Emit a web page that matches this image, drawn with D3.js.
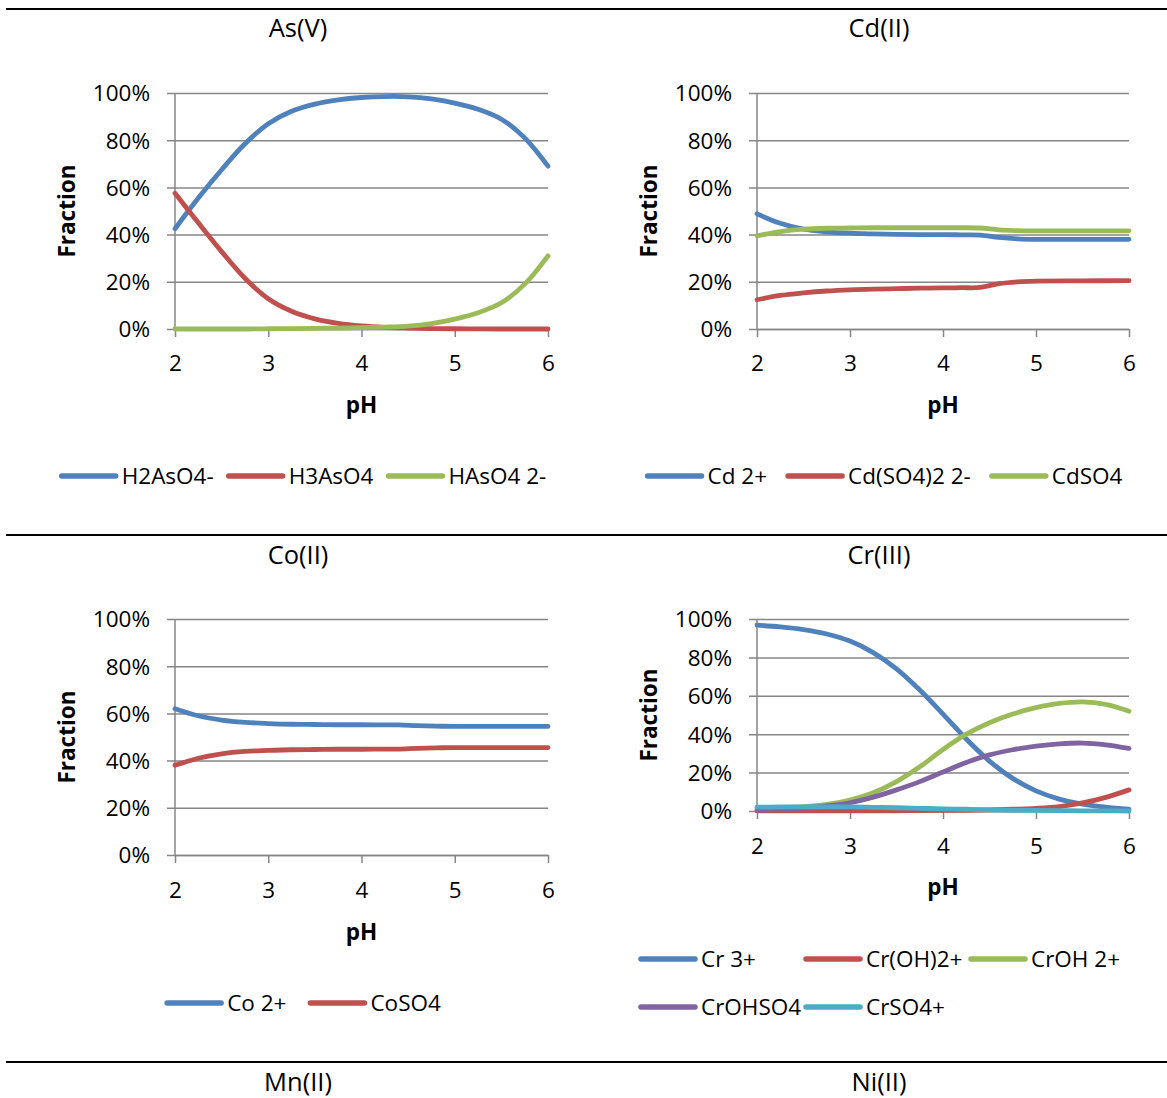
<!DOCTYPE html>
<html>
<head>
<meta charset="utf-8">
<script src="https://cdn.jsdelivr.net/npm/d3@7"></script>
<style>
  html, body { margin: 0; padding: 0; background: #fff; }
  svg { display: block; font-family: "Open Sans", "Noto Sans", sans-serif; }
</style>
</head>
<body>
<svg id="chart" width="1167" height="1098"></svg>
<script>
// pH grids
const pHFine = [2, 2.25, 2.5, 2.75, 3, 3.25, 3.5, 3.75, 4, 4.25, 4.5, 4.75, 5, 5.25, 5.5, 5.75, 6];
const pHSulfate = [2, 2.25, 2.5, 2.75, 3, 3.25, 3.5, 3.75, 4, 4.2, 4.4, 4.6, 4.8, 5, 5.5, 6];

const xTicks = [2, 3, 4, 5, 6];
const yTicks = [0, 20, 40, 60, 80, 100];

// As(V) species, % of total
const asNames = ["H2AsO4-", "H3AsO4", "HAsO4 2-"];
const asH2AsO4 = [42.5, 55.5, 67.5, 78.5, 87, 92.3, 95.3, 97.1, 98.1, 98.5, 98.4, 97.5, 95.7, 93.1, 88.9, 81, 69];
const asH3AsO4 = [57.5, 45, 32.8, 21.5, 12.8, 7.5, 4.3, 2.4, 1.3, 0.7, 0.4, 0.2, 0.1, 0.05, 0, 0, 0];
const asHAsO4 = [0, 0, 0, 0, 0.1, 0.2, 0.3, 0.4, 0.6, 0.8, 1.2, 2.3, 4.2, 6.9, 11.1, 19, 31];

// Cd(II) species
const cdNames = ["Cd 2+", "Cd(SO4)2 2-", "CdSO4"];
const cdFree = [48.8, 44.8, 42.3, 41.2, 40.6, 40.3, 40.1, 40.0, 40.0, 39.9, 39.8, 38.8, 38.2, 38.0, 38.0, 38.0];
const cdDisulfate = [12.4, 14.2, 15.3, 16.1, 16.6, 16.9, 17.1, 17.3, 17.4, 17.5, 17.6, 19.2, 20.0, 20.3, 20.4, 20.5];
const cdSulfate = [39.5, 41.3, 42.3, 42.7, 42.8, 42.9, 42.9, 42.9, 42.9, 42.9, 42.8, 42.0, 41.7, 41.6, 41.6, 41.6];

// Co(II) species
const coNames = ["Co 2+", "CoSO4"];
const coFree = [62.0, 59.0, 57.2, 56.2, 55.7, 55.4, 55.3, 55.2, 55.2, 55.1, 55.1, 54.8, 54.6, 54.5, 54.5, 54.5];
const coSulfate = [38.0, 41.0, 42.9, 43.9, 44.3, 44.6, 44.7, 44.8, 44.8, 44.9, 44.9, 45.2, 45.4, 45.5, 45.5, 45.5];

// Cr(III) species
const crNames = ["Cr 3+", "Cr(OH)2+", "CrOH 2+", "CrOHSO4", "CrSO4+"];
const crFree = [96.8, 95.9, 94.5, 92.2, 88.5, 82.5, 74, 63, 50.5, 37.5, 26, 17, 10.5, 6.2, 3.6, 2, 1];
const crDihydroxo = [0.1, 0.1, 0.1, 0.1, 0.1, 0.1, 0.1, 0.2, 0.3, 0.4, 0.6, 0.9, 1.4, 2.3, 4.2, 7.1, 11];
const crHydroxo = [1.5, 1.8, 2.3, 3.5, 5.7, 9.5, 15.3, 23, 32, 40, 46, 50.5, 53.8, 56.0, 56.8, 55.5, 52];
const crHydroxoSulfate = [0.3, 0.8, 1.5, 2.6, 4.3, 7.2, 11, 15.3, 20.3, 25.3, 29.2, 31.9, 33.8, 35.0, 35.4, 34.5, 32.6];
const crSulfate = [2, 2.1, 2.2, 2.2, 2.1, 1.9, 1.7, 1.4, 1.1, 0.9, 0.6, 0.4, 0.3, 0.2, 0.1, 0.1, 0];

const lowerTitles = ["Mn(II)", "Ni(II)"];

// Office palette
const palette = ["#4F81BD", "#C0504D", "#9BBB59", "#8064A2", "#4BACC6"];
const gridColor = "#868686";

const panels = [
  { title: "As(V)", x: pHFine, names: asNames, series: [asH2AsO4, asH3AsO4, asHAsO4],
    left: 175, right: 548, top: 93, bottom: 329, titleX: 298, titleY: 28,
    tickY: 363, xTitleY: 405, yTitleX: 67, legend: { type: "row", y: 476, cx: 304, gap: 15 } },
  { title: "Cd(II)", x: pHSulfate, names: cdNames, series: [cdFree, cdDisulfate, cdSulfate],
    left: 757, right: 1129, top: 93, bottom: 329, titleX: 879, titleY: 28,
    tickY: 363, xTitleY: 405, yTitleX: 649, legend: { type: "row", y: 476, cx: 885, gap: 21 } },
  { title: "Co(II)", x: pHSulfate, names: coNames, series: [coFree, coSulfate],
    left: 175, right: 548, top: 619, bottom: 855, titleX: 298, titleY: 555,
    tickY: 890, xTitleY: 932, yTitleX: 67, legend: { type: "row", y: 1003, cx: 304, gap: 24 } },
  { title: "Cr(III)", x: pHFine, names: crNames, series: [crFree, crDihydroxo, crHydroxo, crHydroxoSulfate, crSulfate],
    left: 757, right: 1129, top: 619, bottom: 811, titleX: 879, titleY: 555,
    tickY: 846, xTitleY: 887, yTitleX: 649, legend: { type: "grid", rows: [959, 1007], x0: 641, pitch: 165, cols: 3 } }
];

const svg = d3.select("#chart");
const FONT = 22.5;
const LINE_W = 4.8;
const SWATCH = 54;

// horizontal separators between chart rows
[9, 535, 1062].forEach(y => {
  svg.append("line").attr("x1", 6).attr("x2", 1167).attr("y1", y).attr("y2", y)
    .attr("stroke", "#000").attr("stroke-width", 2);
});

// titles of the next row
svg.append("text").attr("x", 298).attr("y", 1082).attr("dy", "0.35em").attr("text-anchor", "middle")
  .attr("font-size", 25.5).text(lowerTitles[0]);
svg.append("text").attr("x", 879).attr("y", 1082).attr("dy", "0.35em").attr("text-anchor", "middle")
  .attr("font-size", 25.5).text(lowerTitles[1]);

panels.forEach(p => {
  const g = svg.append("g");
  const x = d3.scaleLinear().domain([2, 6]).range([p.left, p.right]);
  const y = d3.scaleLinear().domain([0, 100]).range([p.bottom, p.top]);

  // title
  g.append("text").attr("x", p.titleX).attr("y", p.titleY).attr("dy", "0.35em")
    .attr("text-anchor", "middle").attr("font-size", 25.5).text(p.title);

  // horizontal gridlines, extending left as tick marks
  const yAxis = d3.axisLeft(y).tickValues(yTicks).tickSize(-(p.right - p.left)).tickSizeOuter(0)
    .tickFormat(d => d + "%").tickPadding(0);
  const ya = g.append("g").attr("transform", `translate(${p.left},0)`).call(yAxis);
  ya.select(".domain").remove();
  ya.selectAll(".tick line").attr("x1", -8).attr("stroke", gridColor).attr("stroke-width", 1.5);
  ya.selectAll(".tick text").attr("x", -25).attr("dy", "0.35em").attr("font-size", FONT)
    .attr("font-family", "Open Sans").attr("fill", "#000");

  // vertical axis line
  g.append("line").attr("x1", p.left).attr("x2", p.left).attr("y1", p.top).attr("y2", p.bottom)
    .attr("stroke", gridColor).attr("stroke-width", 1.5);

  // bottom axis with downward ticks
  const xAxis = d3.axisBottom(x).tickValues(xTicks).tickSize(8).tickSizeOuter(0).tickFormat(d3.format("d"));
  const xa = g.append("g").attr("transform", `translate(0,${p.bottom})`).call(xAxis);
  xa.select(".domain").attr("stroke", gridColor).attr("stroke-width", 1.5);
  xa.selectAll(".tick line").attr("stroke", gridColor).attr("stroke-width", 1.5);
  xa.selectAll(".tick text").attr("y", p.tickY - p.bottom).attr("dy", "0.35em").attr("font-size", FONT)
    .attr("font-family", "Open Sans").attr("fill", "#000");

  // axis titles
  g.append("text").attr("x", (p.left + p.right) / 2).attr("y", p.xTitleY).attr("dy", "0.35em")
    .attr("text-anchor", "middle").attr("font-size", FONT).attr("font-weight", "bold").text("pH");
  g.append("text").attr("transform", `translate(${p.yTitleX},${(p.top + p.bottom) / 2}) rotate(-90)`)
    .attr("dy", "0.35em").attr("text-anchor", "middle").attr("font-size", FONT)
    .attr("font-weight", "bold").text("Fraction");

  // species curves (smoothed)
  const line = d3.line().x(d => x(d[0])).y(d => y(d[1])).curve(d3.curveCatmullRom.alpha(0.5));
  p.series.forEach((vals, i) => {
    const pts = p.x.map((v, k) => [v, vals[k]]);
    g.append("path").datum(pts).attr("d", line).attr("fill", "none")
      .attr("stroke", palette[i]).attr("stroke-width", LINE_W).attr("stroke-linecap", "round")
      .attr("stroke-linejoin", "round");
  });

  // legend
  const L = p.legend;
  const entries = p.names.map((name, i) => {
    const eg = g.append("g");
    eg.append("line").attr("x1", 0).attr("x2", SWATCH).attr("y1", 0).attr("y2", 0)
      .attr("stroke", palette[i]).attr("stroke-width", LINE_W + 0.7).attr("stroke-linecap", "round");
    const t = eg.append("text").attr("x", SWATCH + 6).attr("y", 0).attr("dy", "0.35em")
      .attr("font-size", FONT).text(name);
    const w = SWATCH + 6 + t.node().getComputedTextLength();
    return { eg, w };
  });
  if (L.type === "row") {
    const total = d3.sum(entries, e => e.w) + L.gap * (entries.length - 1);
    let cx = L.cx - total / 2;
    entries.forEach(e => {
      e.eg.attr("transform", `translate(${cx},${L.y})`);
      cx += e.w + L.gap;
    });
  } else {
    entries.forEach((e, i) => {
      const r = Math.floor(i / L.cols), c = i % L.cols;
      e.eg.attr("transform", `translate(${L.x0 + c * L.pitch},${L.rows[r]})`);
    });
  }
});
</script>
</body>
</html>
